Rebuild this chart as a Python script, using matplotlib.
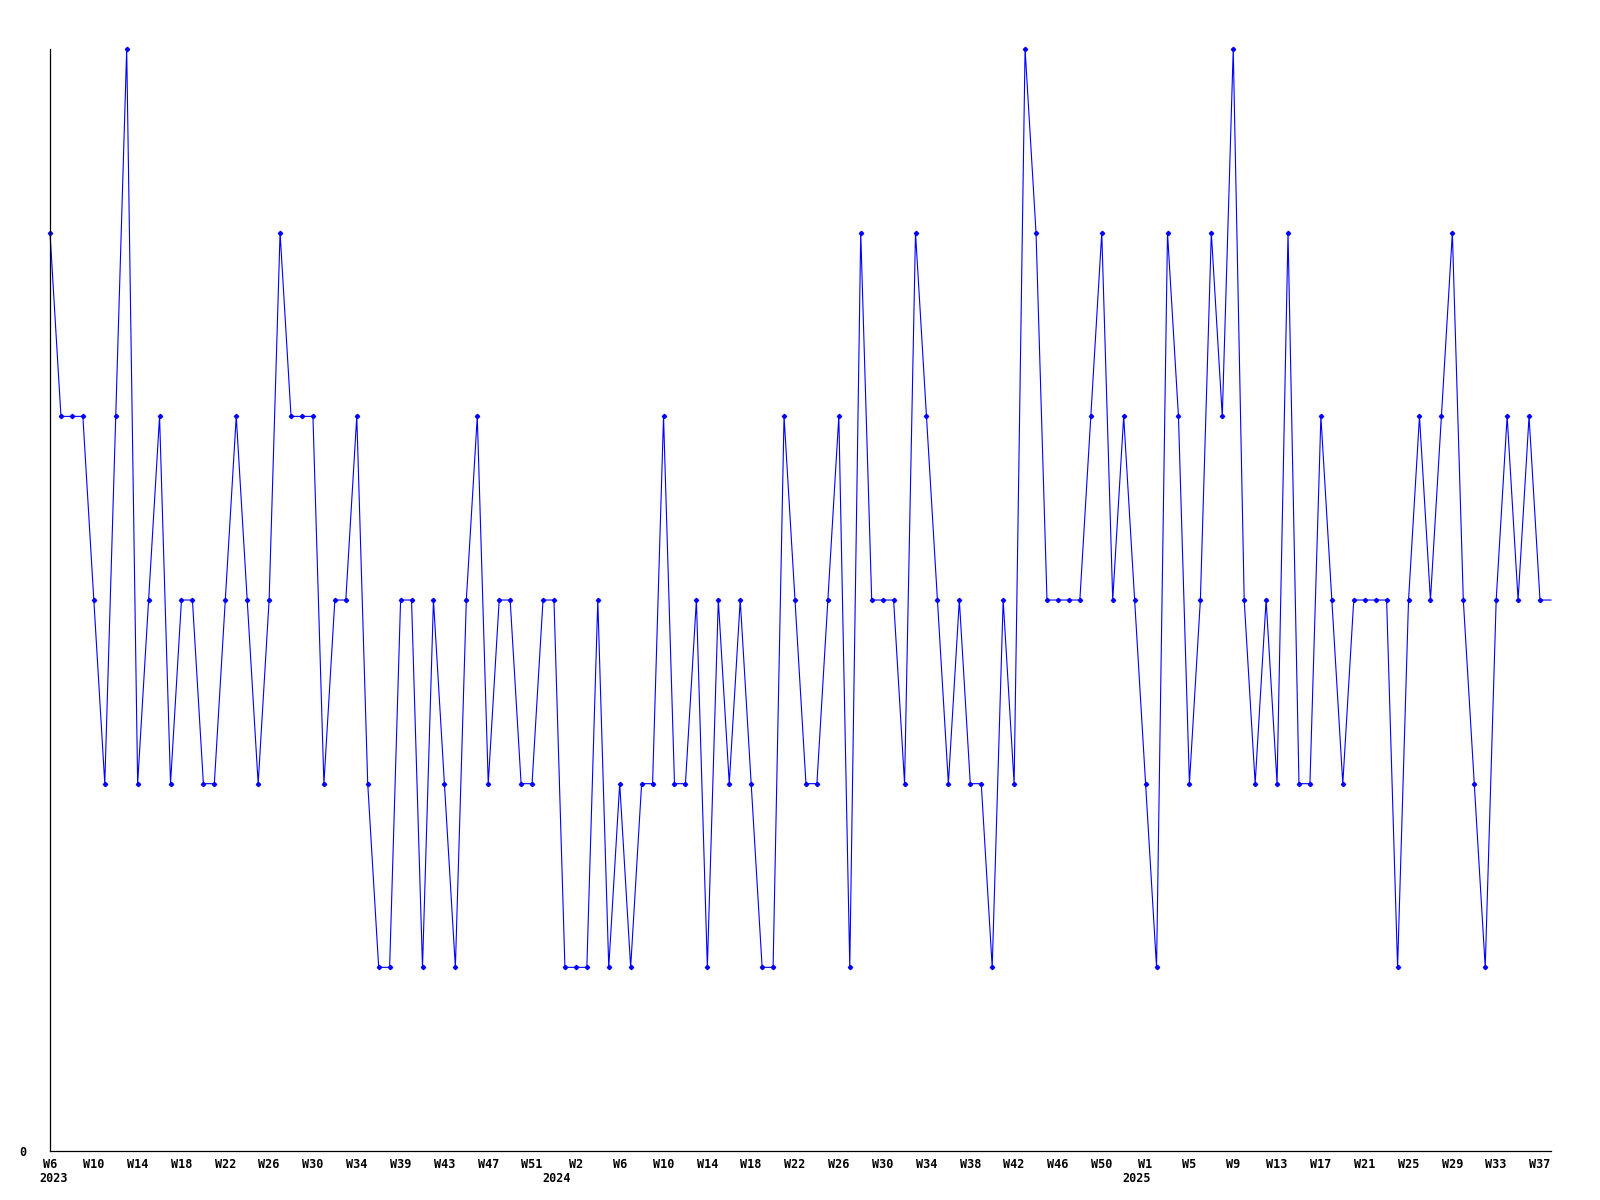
import matplotlib
matplotlib.use("Agg")
import matplotlib.pyplot as plt

# weekly counts, W6 2023 .. W38 2025 (last one is the open week)
values = [5, 4, 4, 4, 3, 2, 4, 6, 2, 3, 4, 2, 3, 3, 2, 2, 3, 4, 3, 2,
          3, 5, 4, 4, 4, 2, 3, 3, 4, 2, 1, 1, 3, 3, 1, 3, 2, 1, 3, 4,
          2, 3, 3, 2, 2, 3, 3, 1, 1, 1, 3, 1, 2, 1, 2, 2, 4, 2, 2, 3,
          1, 3, 2, 3, 2, 1, 1, 4, 3, 2, 2, 3, 4, 1, 5, 3, 3, 3, 2, 5,
          4, 3, 2, 3, 2, 2, 1, 3, 2, 6, 5, 3, 3, 3, 3, 4, 5, 3, 4, 3,
          2, 1, 5, 4, 2, 3, 5, 4, 6, 3, 2, 3, 2, 5, 2, 2, 4, 3, 2, 3,
          3, 3, 3, 1, 3, 4, 3, 4, 5, 3, 2, 1, 3, 4, 3, 4, 3, 3]

week_labels = ['W6', 'W10', 'W14', 'W18', 'W22', 'W26', 'W30', 'W34', 'W39',
               'W43', 'W47', 'W51', 'W2', 'W6', 'W10', 'W14', 'W18', 'W22',
               'W26', 'W30', 'W34', 'W38', 'W42', 'W46', 'W50', 'W1', 'W5',
               'W9', 'W13', 'W17', 'W21', 'W25', 'W29', 'W33', 'W37']
label_step = 4

years = ['2023', '2024', '2025']
year_pos = [0.3, 46.2, 99.2]

font = dict(family='DejaVu Sans Mono', fontweight='bold', fontsize=8.5)

fig = plt.figure(figsize=(16, 12), dpi=100)
ax = fig.add_axes([0.03125, 0.04083, 0.9381, 0.9183])

x = list(range(len(values)))
ax.plot(x, values, color='#0000ff', linewidth=0.8, clip_on=False,
        marker='D', markersize=2.2, markevery=list(range(len(values) - 1)))

ax.set_xlim(0, len(values) - 1)
ax.set_ylim(0, 6)

for side in ['top', 'right']:
    ax.spines[side].set_visible(False)
for side in ['left', 'bottom']:
    ax.spines[side].set_linewidth(0.9)
    ax.spines[side].set_color('black')

ax.set_yticks([0])
ax.set_yticklabels(['0'], **font)
ax.set_xticks(list(range(0, label_step * len(week_labels), label_step)))
ax.set_xticklabels(week_labels, **font)
ax.tick_params(axis='y', length=0, pad=17)
ax.tick_params(axis='x', length=0, pad=5)

for yr, pos in zip(years, year_pos):
    ax.annotate(yr, xy=(pos, 0), xycoords=('data', 'axes fraction'),
                xytext=(0, -15), textcoords='offset points',
                ha='center', va='top', **font)

fig.savefig('out.png', dpi=100)
